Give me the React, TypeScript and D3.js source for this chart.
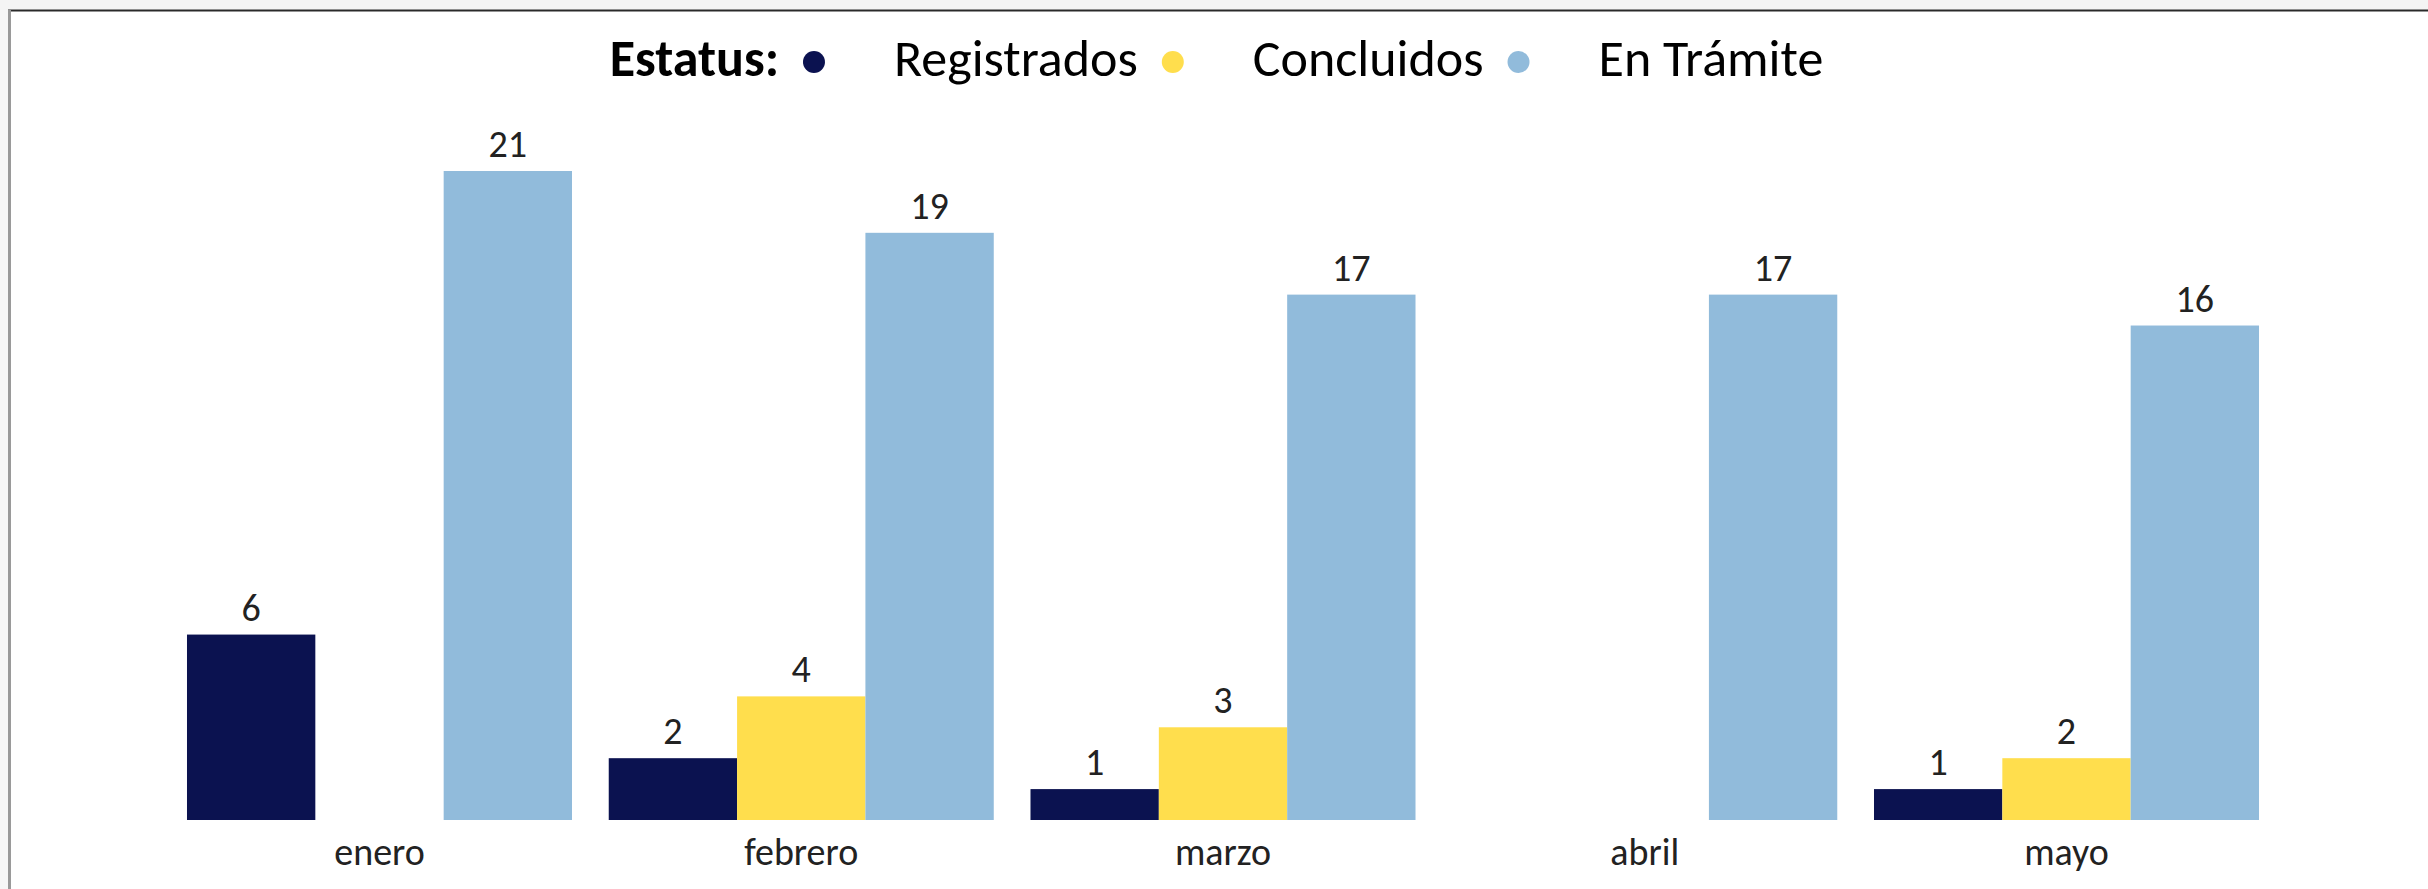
import * as d3 from 'd3'

const W = 2428
const H = 889

const MONTHS = ['enero', 'febrero', 'marzo', 'abril', 'mayo']
const SERIES = ['Registrados', 'Concluidos', 'En Trámite']
const REGISTRADOS = [6, 2, 1, null, 1]
const CONCLUIDOS = [null, 4, 3, null, 2]
const EN_TRAMITE = [21, 19, 17, 17, 16]
const COLORS = ['#0b1250', '#ffde4d', '#91bbdb']
const LEGEND_TITLE = 'Estatus:'

const FONT = 'Carlito, Calibri, Lato, sans-serif'
const LABEL_SIZE = 38
const LEGEND_SIZE = 52

const measure = (() => {
  const ctx = document.createElement('canvas').getContext('2d')
  return (text: string, size: number, weight = 'normal') => {
    if (!ctx) return text.length * size * 0.5
    ctx.font = `${weight} ${size}px ${FONT}`
    return ctx.measureText(text).width
  }
})()

export default function App() {
  const values = [REGISTRADOS, CONCLUIDOS, EN_TRAMITE]

  const x0 = d3.scaleBand<string>()
    .domain(MONTHS)
    .range([168.6, 2277.4])
    .paddingInner(0.0871)
    .paddingOuter(0.0436)

  const x1 = d3.scaleBand<string>()
    .domain(SERIES)
    .range([0, x0.bandwidth()])
    .padding(0)

  const y = d3.scaleLinear().domain([0, 21]).range([820, 171])

  // legend layout: title, then dot + label for each series, centred
  const titleW = measure(LEGEND_TITLE, LEGEND_SIZE, 'bold')
  const labelW = SERIES.map(s => measure(s, LEGEND_SIZE))
  const toDot = 35
  const dotToText = 80
  const total = titleW + SERIES.length * (toDot + dotToText) + d3.sum(labelW)
  let cursor = 1216.5 - total / 2
  const titleX = cursor
  cursor += titleW
  const legendItems = SERIES.map((s, i) => {
    const dotX = cursor + toDot
    const textX = dotX + dotToText
    cursor = textX + labelW[i]
    return { s, dotX, textX, color: COLORS[i] }
  })

  return (
    <div style={{ position: 'absolute', left: 0, top: 0 }}>
      <svg width={W} height={H} style={{ display: 'block', fontFamily: FONT }}>
        <rect x={0} y={0} width={W} height={H} fill="#ffffff" />
        <rect x={0} y={0} width={W} height={10} fill="#f4f4f4" />
        <rect x={0} y={10} width={8} height={H - 10} fill="#f7f7f7" />
        <line x1={8} x2={W} y1={10.5} y2={10.5} stroke="#2a2a2a" strokeWidth={2} />
        <line x1={9.5} x2={9.5} y1={10} y2={H} stroke="#9a9a9a" strokeWidth={3} />

        {/* legend */}
        <text x={titleX} y={76} fontSize={LEGEND_SIZE} fontWeight="bold" fill="#000">
          {LEGEND_TITLE}
        </text>
        {legendItems.map(d => (
          <g key={d.s}>
            <circle cx={d.dotX} cy={62} r={11} fill={d.color} />
            <text x={d.textX} y={76} fontSize={LEGEND_SIZE} fill="#000">{d.s}</text>
          </g>
        ))}

        {/* bars */}
        {MONTHS.map((m, mi) => (
          <g key={m} transform={`translate(${x0(m)},0)`}>
            {SERIES.map((s, si) => {
              const v = values[si][mi]
              if (v == null) return null
              const bx = x1(s) as number
              return (
                <g key={s}>
                  <rect
                    x={bx}
                    y={y(v)}
                    width={x1.bandwidth()}
                    height={y(0) - y(v)}
                    fill={COLORS[si]}
                  />
                  <text
                    x={bx + x1.bandwidth() / 2}
                    y={y(v) - 14}
                    textAnchor="middle"
                    fontSize={LABEL_SIZE}
                    fill="#222"
                  >
                    {v}
                  </text>
                </g>
              )
            })}
            <text
              x={x0.bandwidth() / 2}
              y={865}
              textAnchor="middle"
              fontSize={LABEL_SIZE}
              fill="#222"
            >
              {m}
            </text>
          </g>
        ))}
      </svg>
    </div>
  )
}
